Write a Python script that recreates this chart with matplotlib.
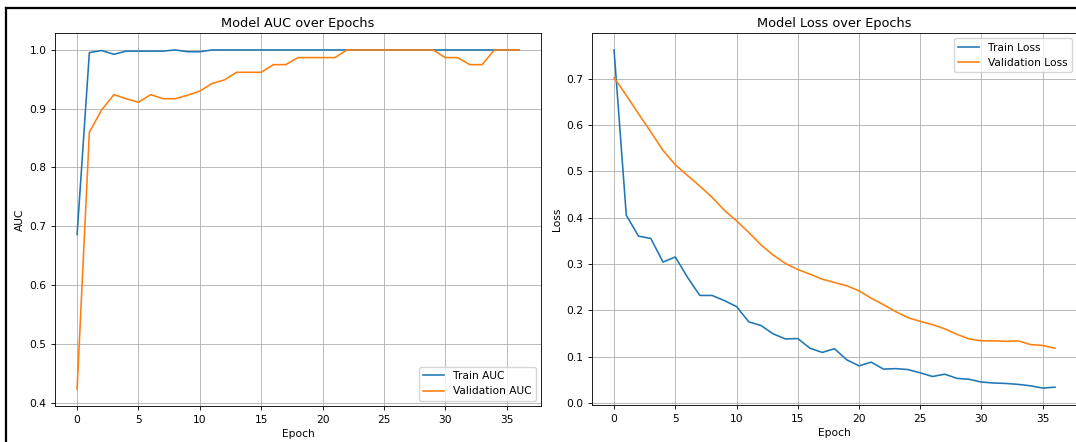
import matplotlib
matplotlib.use('Agg')
import matplotlib.pyplot as plt
from matplotlib.lines import Line2D
import numpy as np

# ---------------------------------------------------------------------------
# Training history
# ---------------------------------------------------------------------------
epochs = list(range(37))

train_auc = [0.686, 0.9955, 0.999, 0.9926, 0.998, 0.998, 0.998, 0.998, 1.0, 0.997,
             0.997, 1.0, 1.0, 1.0, 1.0, 1.0, 1.0, 1.0, 1.0, 1.0,
             1.0, 1.0, 1.0, 1.0, 1.0, 1.0, 1.0, 1.0, 1.0, 1.0,
             1.0, 1.0, 1.0, 1.0, 1.0, 1.0, 1.0]
val_auc = [0.423, 0.860, 0.898, 0.924, 0.917, 0.911, 0.924, 0.917, 0.917, 0.923,
           0.930, 0.943, 0.949, 0.962, 0.962, 0.962, 0.975, 0.975, 0.987, 0.987,
           0.987, 0.987, 1.0, 1.0, 1.0, 1.0, 1.0, 1.0, 1.0, 1.0,
           0.987, 0.987, 0.975, 0.975, 1.0, 1.0, 1.0]

train_loss = [0.762, 0.405, 0.360, 0.355, 0.304, 0.315, 0.271, 0.232, 0.232, 0.221,
              0.208, 0.175, 0.167, 0.149, 0.138, 0.139, 0.118, 0.109, 0.117, 0.093,
              0.080, 0.088, 0.073, 0.074, 0.072, 0.065, 0.057, 0.062, 0.053, 0.051,
              0.045, 0.043, 0.042, 0.040, 0.037, 0.032, 0.034]
val_loss = [0.702, 0.664, 0.624, 0.585, 0.545, 0.514, 0.491, 0.468, 0.444, 0.416,
            0.393, 0.368, 0.341, 0.319, 0.301, 0.288, 0.278, 0.267, 0.260, 0.253,
            0.242, 0.226, 0.212, 0.197, 0.184, 0.176, 0.169, 0.160, 0.148, 0.138,
            0.134, 0.134, 0.133, 0.134, 0.126, 0.124, 0.118]

# scaled-down default look
S = 0.77
plt.rcParams.update({
    'font.size': 10 * S,
    'axes.linewidth': 0.8 * S,
    'lines.linewidth': 1.5 * S,
    'grid.linewidth': 0.8 * S,
    'xtick.major.size': 3.5 * S,
    'ytick.major.size': 3.5 * S,
    'xtick.major.width': 0.8 * S,
    'ytick.major.width': 0.8 * S,
    'axes.titlesize': 12 * S,
    'axes.titlepad': 6 * S,
    'axes.labelpad': 4 * S,
})

W, H = 1076, 442
fig = plt.figure(figsize=(W / 100, H / 100), dpi=100)


def px_axes(x0, y0, x1, y1):
    return fig.add_axes([x0 / W, 1 - y1 / H, (x1 - x0) / W, (y1 - y0) / H])


ax1 = px_axes(55, 33, 541, 406)
ax1.plot(epochs, train_auc, label='Train AUC')
ax1.plot(epochs, val_auc, label='Validation AUC')
ax1.set_title('Model AUC over Epochs')
ax1.set_xlabel('Epoch')
ax1.set_ylabel('AUC')
ax1.legend(loc='lower right')
ax1.grid(True)

ax2 = px_axes(592, 33, 1077, 405)
ax2.plot(epochs, train_loss, label='Train Loss')
ax2.plot(epochs, val_loss, label='Validation Loss')
ax2.set_title('Model Loss over Epochs')
ax2.set_xlabel('Epoch')
ax2.set_ylabel('Loss')
ax2.legend(loc='upper right')
ax2.grid(True)

# screenshot frame
fig.add_artist(Line2D([6 / W, 1], [1 - 8 / H, 1 - 8 / H], color='black', lw=1.6,
                      transform=fig.transFigure))
fig.add_artist(Line2D([6 / W, 6 / W], [0, 1 - 8 / H], color='black', lw=1.6,
                      transform=fig.transFigure))

fig.savefig('out.png', dpi=100, facecolor='white')
